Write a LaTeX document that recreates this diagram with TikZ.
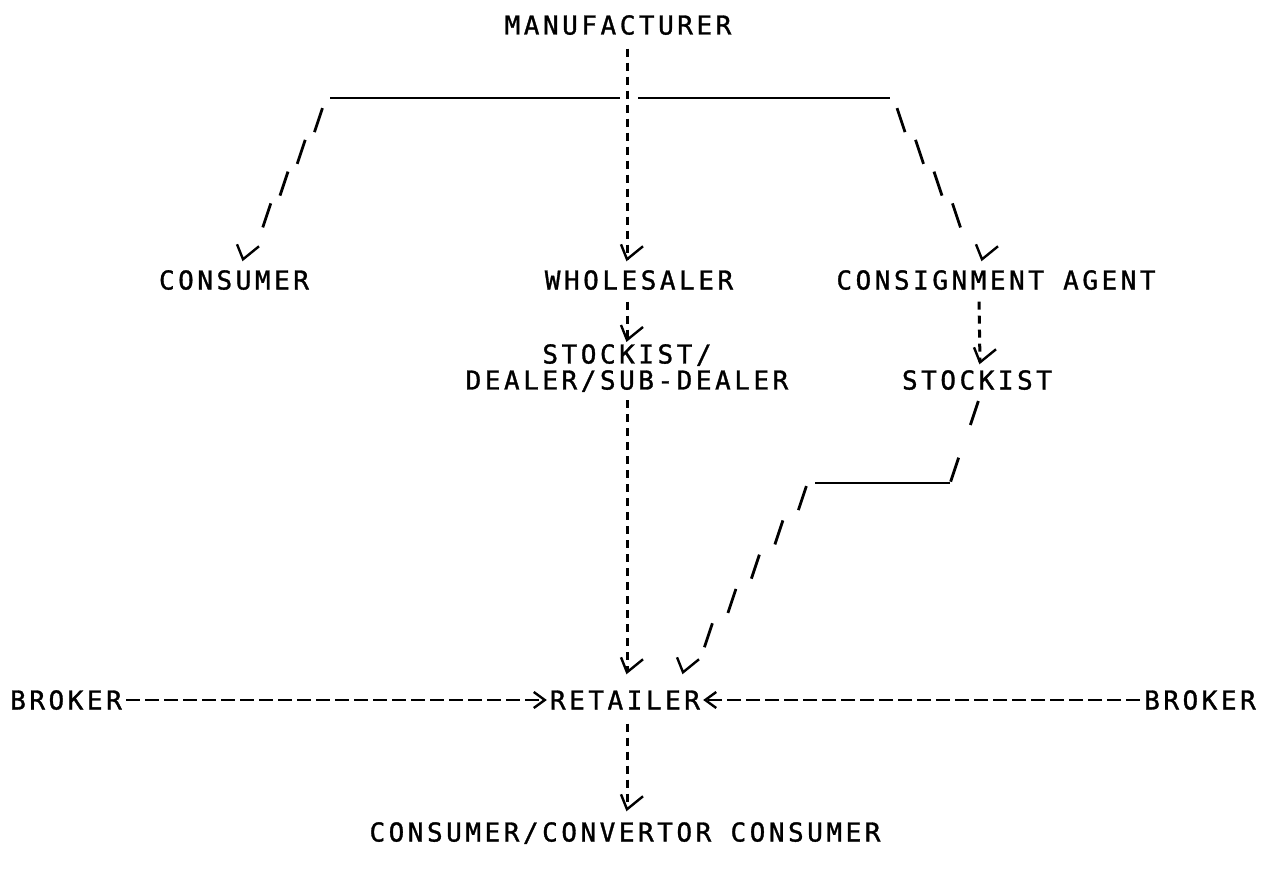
\documentclass[tikz,border=0pt]{standalone}
\usepackage{fontspec}
\newfontfamily\tw{DejaVu Sans Mono}[LetterSpace=13.6, FakeBold=1.2]
\usetikzlibrary{arrows.meta,decorations.markings}
\begin{document}
\begin{tikzpicture}[x=1pt,y=-1pt,
  lbl/.style={font=\tw\fontsize{26}{26}\selectfont, inner sep=0pt, text height=19pt, text depth=0pt, anchor=center},
  mlbl/.style={font=\tw\fontsize{26}{26}\selectfont, inner sep=0pt, align=center},
  vcheck/.style={postaction={decorate, decoration={markings,
      mark=at position 1 with {\pgftransformresetnontranslations
        \draw[-,solid,line width=2.4pt,line join=miter] (-6,-15) -- (0,0) -- (16,-13);}}}},
  ctip/.style={-{Straight Barb[length=11pt,width=16pt,line width=2.4pt]}},
  vd/.style={line width=3pt, dash pattern=on 8pt off 6pt},
  slashes/.style n args={4}{
    postaction={decorate, decoration={markings,
      mark=between positions #2 and #3 step #4 with {\pgftransformresetnontranslations
        \draw[-,solid,line width=2.8pt] (-#1,12) -- (#1,-12);}}}},
  bd/.style={line width=2.6pt, dash pattern=on 14pt off 5pt},
  hl/.style={line width=2.2pt}]
\useasboundingbox (0,0) rectangle (1272,869);
% nodes
\node[lbl] (manu) at (618,25) {MANUFACTURER};
\node[lbl] (consumer) at (234,280) {CONSUMER};
\node[lbl] (wholesaler) at (639,280) {WHOLESALER};
\node[lbl] (consign) at (996,280) {CONSIGNMENT AGENT};
\node[mlbl, anchor=north] (sdl) at (627,344) {STOCKIST/\\DEALER/SUB-DEALER};
\node[lbl] (stockist) at (977,380) {STOCKIST};
\node[lbl] (broker1) at (66,700) {BROKER};
\node[lbl] (retailer) at (625,700) {RETAILER};
\node[lbl] (broker2) at (1200,700) {BROKER};
\node[lbl] (final) at (625,832) {CONSUMER/CONVERTOR CONSUMER};
% branch coordinates
\coordinate (bl) at (330,98);
\coordinate (bgl) at (620,98);
\coordinate (bgr) at (638,98);
\coordinate (br) at (890,98);
\coordinate (dl) at (325,108);
\coordinate (dr) at (894,108);
\coordinate (sh1) at (950,483);
\coordinate (sh2) at (815,483);
\coordinate (sd2) at (810,487);
% connectors
\draw[vd,vcheck] (manu.south) ++(9,14) -- ([xshift=-12pt,yshift=11pt]wholesaler.north);
\draw[hl] (bl) -- (bgl);
\draw[hl] (bgr) -- (br);
\path[slashes={4}{0.08}{0.75}{0.21},vcheck] (dl) -- ([xshift=9pt,yshift=11pt]consumer.north);
\path[slashes={-4}{0.08}{0.75}{0.21},vcheck] (dr) -- ([xshift=-14pt,yshift=11pt]consign.north);
\draw[vd,vcheck] ([xshift=-12pt,yshift=-12pt]wholesaler.south) -- ([yshift=4pt]sdl.north);
\draw[vd,vcheck] ([xshift=-17pt,yshift=-12pt]consign.south) -- ([xshift=3pt,yshift=8pt]stockist.north);
\draw[vd,vcheck] ([yshift=-8pt]sdl.south) -- ([xshift=2pt,yshift=18pt]retailer.north);
\path[slashes={4}{0.16}{0.9}{0.68}] ([xshift=2pt,yshift=-10pt]stockist.south) -- (sh1);
\draw[hl] (sh1) -- (sh2);
\path[slashes={4}{0.06}{0.8}{0.185},vcheck] (sd2) -- ([xshift=58pt,yshift=18pt]retailer.north);
\draw[vd,vcheck] ([xshift=2pt,yshift=-14pt]retailer.south) -- ([xshift=2pt,yshift=13pt]final.north);
\draw[bd,ctip] ([xshift=4pt]broker1.east) -- ([xshift=-3pt]retailer.west);
\draw[bd,ctip] ([xshift=-4pt]broker2.west) -- ([xshift=3pt]retailer.east);
\end{tikzpicture}
\end{document}
